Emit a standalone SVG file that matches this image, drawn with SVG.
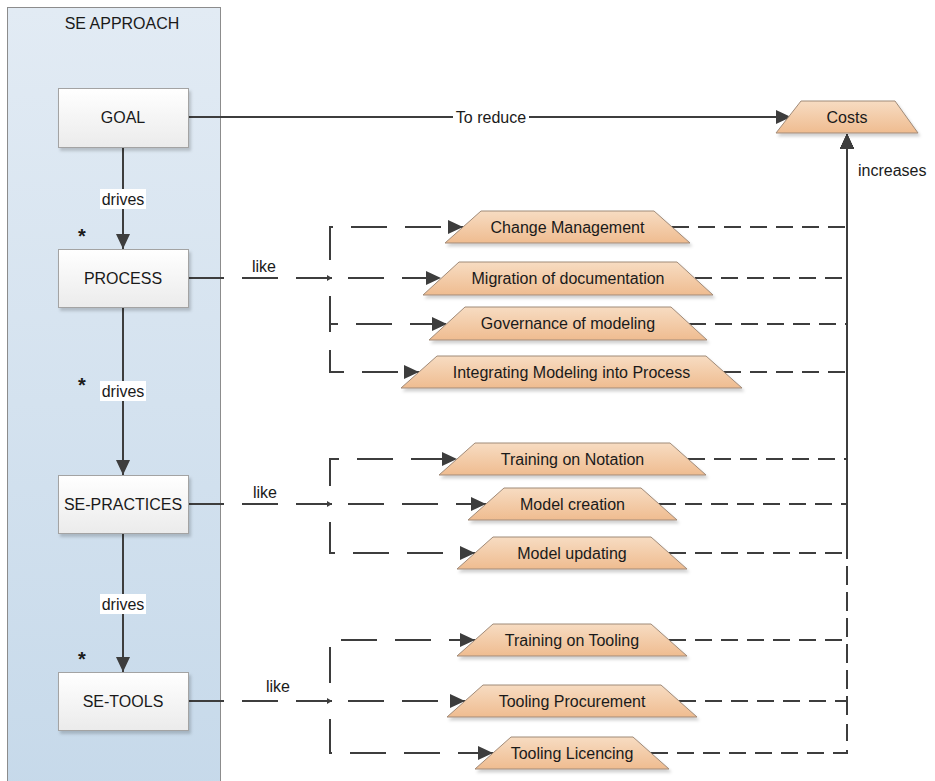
<svg xmlns="http://www.w3.org/2000/svg" width="935" height="781" viewBox="0 0 935 781">
  <defs>
    <linearGradient id="lane" x1="0" y1="0" x2="0" y2="1">
      <stop offset="0" stop-color="#e2ebf4"/>
      <stop offset="1" stop-color="#c6d9ea"/>
    </linearGradient>
    <linearGradient id="box" x1="0" y1="0" x2="0" y2="1">
      <stop offset="0" stop-color="#ffffff"/>
      <stop offset="1" stop-color="#ebebeb"/>
    </linearGradient>
    <linearGradient id="trap" x1="0" y1="0" x2="0" y2="1">
      <stop offset="0" stop-color="#f7dcc2"/>
      <stop offset="1" stop-color="#efbc90"/>
    </linearGradient>
    <filter id="shadow" x="-10%" y="-20%" width="120%" height="160%">
      <feDropShadow dx="2" dy="3" stdDeviation="1.5" flood-color="#000" flood-opacity="0.18"/>
    </filter>
    <marker id="arrow" markerUnits="userSpaceOnUse" markerWidth="16" markerHeight="14" refX="15" refY="7" orient="auto">
      <path d="M0,0 L15,7 L0,14 Z" fill="#3d3d3d"/>
    </marker>
    <marker id="tick" markerUnits="userSpaceOnUse" markerWidth="6" markerHeight="6" refX="5" refY="3" orient="auto">
      <path d="M0,0 L5,3 L0,6 Z" fill="#3d3d3d"/>
    </marker>
  </defs>
  <style>
    text { font-family: "Liberation Sans", Arial, sans-serif; font-size: 16px; fill: #1a1a1a; }
    .c { text-anchor: middle; }
    .node rect { fill: url(#box); stroke: #a3a3a3; stroke-width: 1; filter: url(#shadow); }
    .node polygon { fill: url(#trap); stroke: #a08a78; stroke-width: 1; filter: url(#shadow); }
    .solid { fill: none; stroke: #3d3d3d; stroke-width: 2; }
    .like { fill: none; stroke: #3d3d3d; stroke-width: 2; stroke-dasharray: 36 18; }
    .branch { fill: none; stroke: #3d3d3d; stroke-width: 2; stroke-dasharray: 36 18; stroke-dashoffset: 36; marker-end: url(#arrow); }
    .inc { fill: none; stroke: #3d3d3d; stroke-width: 2; stroke-dasharray: 17 9; marker-end: url(#arrow); }
    .lbl { fill: #ffffff; }
    .star { font-size: 20px; font-weight: bold; }
  </style>

  <!-- swimlane -->
  <g id="se-approach">
    <rect x="7.5" y="7.5" width="213" height="790" fill="url(#lane)" stroke="#8c8c8c" stroke-width="1"/>
    <text class="c" x="122" y="29">SE APPROACH</text>
  </g>

  <!-- connectors -->
  <g id="connectors">
    <!-- drives chain -->
    <path class="solid" d="M123,147 V249" marker-end="url(#arrow)"/>
    <path class="solid" d="M123,307 V475" marker-end="url(#arrow)"/>
    <path class="solid" d="M123,533 V672" marker-end="url(#arrow)"/>
    <rect class="lbl" x="100" y="189" width="46" height="20"/>
    <text class="c" x="123" y="205">drives</text>
    <rect class="lbl" x="100" y="381" width="46" height="20"/>
    <text class="c" x="123" y="397">drives</text>
    <rect class="lbl" x="100" y="594" width="46" height="20"/>
    <text class="c" x="123" y="610">drives</text>
    <text class="star c" x="82" y="243">*</text>
    <text class="star c" x="82" y="392">*</text>
    <text class="star c" x="82" y="666">*</text>

    <!-- goal to costs -->
    <path class="solid" d="M188,117 H791" marker-end="url(#arrow)"/>
    <rect class="lbl" x="453" y="108" width="76" height="19"/>
    <text class="c" x="491" y="123">To reduce</text>

    <!-- process like -->
    <path class="like" d="M188,278 H332" marker-end="url(#tick)"/>
    <text class="c" x="264" y="272">like</text>
    <path class="branch" d="M330,278 V227 H463"/>
    <path class="branch" d="M330,278 H441"/>
    <path class="branch" d="M330,278 V324 H447"/>
    <path class="branch" d="M330,278 V372 H419"/>

    <!-- practices like -->
    <path class="like" d="M188,504 H332" marker-end="url(#tick)"/>
    <text class="c" x="265" y="498">like</text>
    <path class="branch" d="M330,504 V459 H457"/>
    <path class="branch" d="M330,504 H486"/>
    <path class="branch" d="M330,504 V553 H475"/>

    <!-- tools like -->
    <path class="like" d="M188,701 H332" marker-end="url(#tick)"/>
    <text class="c" x="278" y="692">like</text>
    <path class="branch" d="M330,701 V640 H475"/>
    <path class="branch" d="M330,701 H465"/>
    <path class="branch" d="M330,701 V753 H493"/>

    <!-- increases -->
    <path class="inc" d="M672,227 H847 V134"/>
    <path class="inc" d="M695,278 H847 V134"/>
    <path class="inc" d="M689,324 H847 V134"/>
    <path class="inc" d="M724,372 H847 V134"/>
    <path class="inc" d="M688,459 H847 V134"/>
    <path class="inc" d="M659,504 H847 V134"/>
    <path class="inc" d="M669,553 H847 V134"/>
    <path class="inc" d="M669,640 H847 V134"/>
    <path class="inc" d="M679,701 H847 V134"/>
    <path class="inc" d="M651,753 H847 V134"/>
    <text x="858" y="176">increases</text>
  </g>

  <!-- approach nodes -->
  <g id="goal" class="node">
    <rect x="58.5" y="88.5" width="130" height="59"/>
    <text class="c" x="123" y="123">GOAL</text>
  </g>
  <g id="process" class="node">
    <rect x="58.5" y="249.5" width="130" height="58"/>
    <text class="c" x="123" y="284">PROCESS</text>
  </g>
  <g id="se-practices" class="node">
    <rect x="58.5" y="475.5" width="130" height="58"/>
    <text class="c" x="123" y="510">SE-PRACTICES</text>
  </g>
  <g id="se-tools" class="node">
    <rect x="58.5" y="672.5" width="130" height="58"/>
    <text class="c" x="123" y="707">SE-TOOLS</text>
  </g>

  <!-- cost nodes -->
  <g id="costs" class="node">
    <polygon points="776,133 801,101 895,101 918,133"/>
    <text class="c" x="847" y="123">Costs</text>
  </g>
  <g id="change-management" class="node">
    <polygon points="445,243 481,211 654,211 690,243"/>
    <text class="c" x="567.5" y="233">Change Management</text>
  </g>
  <g id="migration-of-documentation" class="node">
    <polygon points="423,295 459,262 677,262 713,295"/>
    <text class="c" x="568" y="284">Migration of documentation</text>
  </g>
  <g id="governance-of-modeling" class="node">
    <polygon points="429,340 465,307 671,307 707,340"/>
    <text class="c" x="568" y="329">Governance of modeling</text>
  </g>
  <g id="integrating-modeling" class="node">
    <polygon points="401,388 437,356 706,356 742,388"/>
    <text class="c" x="571.5" y="378">Integrating Modeling into Process</text>
  </g>
  <g id="training-on-notation" class="node">
    <polygon points="439,475 475,443 670,443 706,475"/>
    <text class="c" x="572.5" y="465">Training on Notation</text>
  </g>
  <g id="model-creation" class="node">
    <polygon points="468,520 504,488 641,488 677,520"/>
    <text class="c" x="572.5" y="510">Model creation</text>
  </g>
  <g id="model-updating" class="node">
    <polygon points="457,569 493,537 651,537 687,569"/>
    <text class="c" x="572" y="559">Model updating</text>
  </g>
  <g id="training-on-tooling" class="node">
    <polygon points="457,656 493,624 651,624 687,656"/>
    <text class="c" x="572" y="646">Training on Tooling</text>
  </g>
  <g id="tooling-procurement" class="node">
    <polygon points="447,717 483,685 661,685 697,717"/>
    <text class="c" x="572" y="707">Tooling Procurement</text>
  </g>
  <g id="tooling-licencing" class="node">
    <polygon points="475,769 511,737 633,737 669,769"/>
    <text class="c" x="572" y="759">Tooling Licencing</text>
  </g>
</svg>
